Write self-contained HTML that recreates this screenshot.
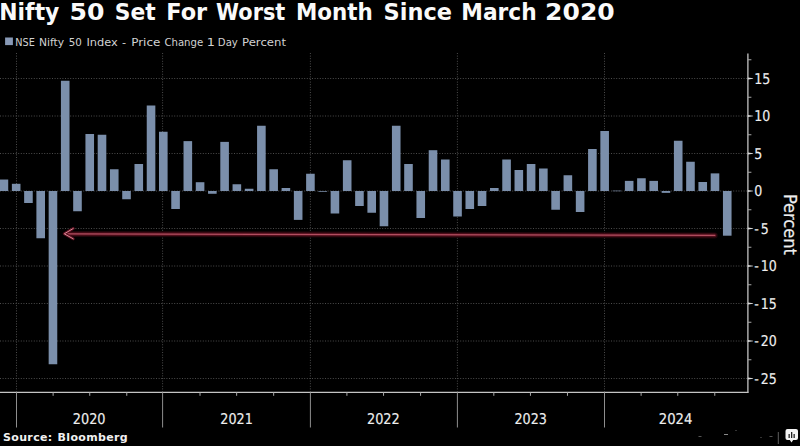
<!DOCTYPE html>
<html><head><meta charset="utf-8"><style>
html,body{margin:0;padding:0;background:#000;}
body{width:800px;height:446px;overflow:hidden;position:relative;}
svg{position:absolute;left:0;top:0;display:block;}
</style></head><body>
<svg width="800" height="446" viewBox="0 0 800 446">
<rect width="800" height="446" fill="#000"/>
<g fill="#fafafa" font-family="'DejaVu Sans', sans-serif" font-weight="bold" font-size="23" transform="translate(0,19.5)">
<text x="-0.70" textLength="60.04" lengthAdjust="spacingAndGlyphs">Nifty</text>
<text x="69.51" textLength="35.00" lengthAdjust="spacingAndGlyphs">50</text>
<text x="114.75" textLength="40.91" lengthAdjust="spacingAndGlyphs">Set</text>
<text x="166.25" textLength="40.89" lengthAdjust="spacingAndGlyphs">For</text>
<text x="216.09" textLength="69.26" lengthAdjust="spacingAndGlyphs">Worst</text>
<text x="296.04" textLength="76.80" lengthAdjust="spacingAndGlyphs">Month</text>
<text x="383.62" textLength="68.41" lengthAdjust="spacingAndGlyphs">Since</text>
<text x="461.31" textLength="75.36" lengthAdjust="spacingAndGlyphs">March</text>
<text x="545.13" textLength="69.58" lengthAdjust="spacingAndGlyphs">2020</text>
</g>
<rect x="5.1" y="37.5" width="7.8" height="7.6" fill="#8899b6"/>
<g fill="#d2d2d2" font-family="'DejaVu Sans', sans-serif" font-size="11" transform="translate(0,45.9)">
<text x="15.37" textLength="19.53" lengthAdjust="spacingAndGlyphs">NSE</text>
<text x="39.02" textLength="25.18" lengthAdjust="spacingAndGlyphs">Nifty</text>
<text x="68.82" textLength="13.08" lengthAdjust="spacingAndGlyphs">50</text>
<text x="86.47" textLength="31.34" lengthAdjust="spacingAndGlyphs">Index</text>
<text x="121.90" textLength="4.08" lengthAdjust="spacingAndGlyphs">-</text>
<text x="131.16" textLength="29.15" lengthAdjust="spacingAndGlyphs">Price</text>
<text x="164.40" textLength="38.82" lengthAdjust="spacingAndGlyphs">Change</text>
<text x="206.73" textLength="8.19" lengthAdjust="spacingAndGlyphs">1</text>
<text x="217.83" textLength="20.03" lengthAdjust="spacingAndGlyphs">Day</text>
<text x="242.04" textLength="43.98" lengthAdjust="spacingAndGlyphs">Percent</text>
</g>
<g stroke="#4c4c4c" stroke-width="1" stroke-dasharray="1 1.6">
<line x1="0" y1="78.50" x2="747.2" y2="78.50"/>
<line x1="0" y1="116.00" x2="747.2" y2="116.00"/>
<line x1="0" y1="153.50" x2="747.2" y2="153.50"/>
<line x1="0" y1="191.00" x2="747.2" y2="191.00"/>
<line x1="0" y1="228.50" x2="747.2" y2="228.50"/>
<line x1="0" y1="266.00" x2="747.2" y2="266.00"/>
<line x1="0" y1="303.50" x2="747.2" y2="303.50"/>
<line x1="0" y1="341.00" x2="747.2" y2="341.00"/>
<line x1="0" y1="378.50" x2="747.2" y2="378.50"/>
<line x1="16.50" y1="53" x2="16.50" y2="391.7"/>
<line x1="162.60" y1="53" x2="162.60" y2="391.7"/>
<line x1="310.40" y1="53" x2="310.40" y2="391.7"/>
<line x1="457.40" y1="53" x2="457.40" y2="391.7"/>
<line x1="604.50" y1="53" x2="604.50" y2="391.7"/>
</g>
<g fill="#7b8fab">
<rect x="0.00" y="179.53" width="8.22" height="11.47"/>
<rect x="11.88" y="183.80" width="8.60" height="7.20"/>
<rect x="24.14" y="191.00" width="8.60" height="12.00"/>
<rect x="36.40" y="191.00" width="8.60" height="47.25"/>
<rect x="48.66" y="191.00" width="8.60" height="173.25"/>
<rect x="60.92" y="80.75" width="8.60" height="110.25"/>
<rect x="73.18" y="191.00" width="8.60" height="20.25"/>
<rect x="85.44" y="134.00" width="8.60" height="57.00"/>
<rect x="97.70" y="134.75" width="8.60" height="56.25"/>
<rect x="109.96" y="169.25" width="8.60" height="21.75"/>
<rect x="122.22" y="191.00" width="8.60" height="8.25"/>
<rect x="134.48" y="164.00" width="8.60" height="27.00"/>
<rect x="146.74" y="105.50" width="8.60" height="85.50"/>
<rect x="159.00" y="131.75" width="8.60" height="59.25"/>
<rect x="171.26" y="191.00" width="8.60" height="18.00"/>
<rect x="183.52" y="141.12" width="8.60" height="49.88"/>
<rect x="195.78" y="182.22" width="8.60" height="8.77"/>
<rect x="208.04" y="191.00" width="8.60" height="2.77"/>
<rect x="220.30" y="141.88" width="8.60" height="49.12"/>
<rect x="232.56" y="184.25" width="8.60" height="6.75"/>
<rect x="244.82" y="188.75" width="8.60" height="2.25"/>
<rect x="257.08" y="125.75" width="8.60" height="65.25"/>
<rect x="269.34" y="169.25" width="8.60" height="21.75"/>
<rect x="281.60" y="188.00" width="8.60" height="3.00"/>
<rect x="293.86" y="191.00" width="8.60" height="28.88"/>
<rect x="306.12" y="173.75" width="8.60" height="17.25"/>
<rect x="318.38" y="191.00" width="8.60" height="0.75"/>
<rect x="330.63" y="191.00" width="8.60" height="22.50"/>
<rect x="342.89" y="160.25" width="8.60" height="30.75"/>
<rect x="355.15" y="191.00" width="8.60" height="15.00"/>
<rect x="367.41" y="191.00" width="8.60" height="21.75"/>
<rect x="379.67" y="191.00" width="8.60" height="35.25"/>
<rect x="391.93" y="125.75" width="8.60" height="65.25"/>
<rect x="404.19" y="164.00" width="8.60" height="27.00"/>
<rect x="416.45" y="191.00" width="8.60" height="27.00"/>
<rect x="428.71" y="150.20" width="8.60" height="40.80"/>
<rect x="440.97" y="159.50" width="8.60" height="31.50"/>
<rect x="453.23" y="191.00" width="8.60" height="25.50"/>
<rect x="465.49" y="191.00" width="8.60" height="18.00"/>
<rect x="477.75" y="191.00" width="8.60" height="15.00"/>
<rect x="490.01" y="188.00" width="8.60" height="3.00"/>
<rect x="502.27" y="159.50" width="8.60" height="31.50"/>
<rect x="514.53" y="170.00" width="8.60" height="21.00"/>
<rect x="526.79" y="164.00" width="8.60" height="27.00"/>
<rect x="539.05" y="168.50" width="8.60" height="22.50"/>
<rect x="551.31" y="191.00" width="8.60" height="18.75"/>
<rect x="563.57" y="175.25" width="8.60" height="15.75"/>
<rect x="575.83" y="191.00" width="8.60" height="21.00"/>
<rect x="588.09" y="149.00" width="8.60" height="42.00"/>
<rect x="600.35" y="131.00" width="8.60" height="60.00"/>
<rect x="612.61" y="190.62" width="8.60" height="0.60"/>
<rect x="624.87" y="180.88" width="8.60" height="10.12"/>
<rect x="637.13" y="178.25" width="8.60" height="12.75"/>
<rect x="649.39" y="180.88" width="8.60" height="10.12"/>
<rect x="661.65" y="191.00" width="8.60" height="1.88"/>
<rect x="673.91" y="140.75" width="8.60" height="50.25"/>
<rect x="686.17" y="161.75" width="8.60" height="29.25"/>
<rect x="698.43" y="182.00" width="8.60" height="9.00"/>
<rect x="710.69" y="173.38" width="8.60" height="17.62"/>
<rect x="722.95" y="191.00" width="8.60" height="44.70"/>
</g>
<g fill="none" stroke-linecap="round" stroke-linejoin="round">
<line x1="70" y1="233.95" x2="714.8" y2="235.4" stroke-width="6" stroke="#1e050a"/>
<line x1="68" y1="233.95" x2="714.8" y2="235.4" stroke-width="3.6" stroke="#4e0e1a"/>
<line x1="67" y1="233.95" x2="714.8" y2="235.4" stroke-width="1.3" stroke="#b24e60"/>
<polyline points="73.2,228.5 64.3,233.8 73.2,238.8" stroke-width="3" stroke="#5a1020"/>
<polyline points="73.2,228.5 64.3,233.8 73.2,238.8" stroke-width="1.0" stroke="#d88a96"/>
</g>
<g stroke="#c4c4c4" stroke-width="1.3">
<line x1="747.9" y1="53.5" x2="747.9" y2="392.8"/>
<line x1="0" y1="392.3" x2="748.5" y2="392.3"/>
</g>
<g stroke="#a8a8a8" stroke-width="1">
<line x1="747.9" y1="359.75" x2="751.40" y2="359.75"/>
<line x1="747.9" y1="322.25" x2="751.40" y2="322.25"/>
<line x1="747.9" y1="284.75" x2="751.40" y2="284.75"/>
<line x1="747.9" y1="247.25" x2="751.40" y2="247.25"/>
<line x1="747.9" y1="209.75" x2="751.40" y2="209.75"/>
<line x1="747.9" y1="172.25" x2="751.40" y2="172.25"/>
<line x1="747.9" y1="134.75" x2="751.40" y2="134.75"/>
<line x1="747.9" y1="97.25" x2="751.40" y2="97.25"/>
<line x1="747.9" y1="59.75" x2="751.40" y2="59.75"/>
<line x1="53.12" y1="392.3" x2="53.12" y2="395.8"/>
<line x1="89.75" y1="392.3" x2="89.75" y2="395.8"/>
<line x1="126.78" y1="392.3" x2="126.78" y2="395.8"/>
<line x1="200.02" y1="392.3" x2="200.02" y2="395.8"/>
<line x1="236.65" y1="392.3" x2="236.65" y2="395.8"/>
<line x1="273.67" y1="392.3" x2="273.67" y2="395.8"/>
<line x1="346.92" y1="392.3" x2="346.92" y2="395.8"/>
<line x1="383.55" y1="392.3" x2="383.55" y2="395.8"/>
<line x1="420.57" y1="392.3" x2="420.57" y2="395.8"/>
<line x1="493.82" y1="392.3" x2="493.82" y2="395.8"/>
<line x1="530.45" y1="392.3" x2="530.45" y2="395.8"/>
<line x1="567.47" y1="392.3" x2="567.47" y2="395.8"/>
<line x1="641.12" y1="392.3" x2="641.12" y2="395.8"/>
<line x1="677.75" y1="392.3" x2="677.75" y2="395.8"/>
<line x1="714.78" y1="392.3" x2="714.78" y2="395.8"/>
</g>
<g stroke="#8e8e8e" stroke-width="1">
<line x1="16.50" y1="392.3" x2="16.50" y2="427.5"/>
<line x1="162.60" y1="392.3" x2="162.60" y2="427.5"/>
<line x1="310.40" y1="392.3" x2="310.40" y2="427.5"/>
<line x1="457.40" y1="392.3" x2="457.40" y2="427.5"/>
<line x1="604.50" y1="392.3" x2="604.50" y2="427.5"/>
</g>
<g fill="#d8d8d8">
<path d="M747.9 377.40 L753.10 378.20 L753.10 378.80 L747.9 379.60Z"/>
<path d="M747.9 339.90 L753.10 340.70 L753.10 341.30 L747.9 342.10Z"/>
<path d="M747.9 302.40 L753.10 303.20 L753.10 303.80 L747.9 304.60Z"/>
<path d="M747.9 264.90 L753.10 265.70 L753.10 266.30 L747.9 267.10Z"/>
<path d="M747.9 227.40 L753.10 228.20 L753.10 228.80 L747.9 229.60Z"/>
<path d="M747.9 189.90 L753.10 190.70 L753.10 191.30 L747.9 192.10Z"/>
<path d="M747.9 152.40 L753.10 153.20 L753.10 153.80 L747.9 154.60Z"/>
<path d="M747.9 114.90 L753.10 115.70 L753.10 116.30 L747.9 117.10Z"/>
<path d="M747.9 77.40 L753.10 78.20 L753.10 78.80 L747.9 79.60Z"/>
</g>
<g fill="#eeeeee" font-family="'DejaVu Sans Condensed', 'DejaVu Sans', sans-serif" font-size="14.9" stroke="#eeeeee" stroke-width="0.15" text-rendering="geometricPrecision">
<g transform="translate(755,0) scale(0.94,1)">
<text x="-0.9" y="83.80">15</text>
<text x="-0.9" y="121.30">10</text>
<text x="-0.9" y="158.80">5</text>
<text x="-0.9" y="196.30">0</text>
<text x="-0.9" y="233.80">-<tspan dx="2.2">5</tspan></text>
<text x="-0.9" y="271.30">-<tspan dx="2.2">10</tspan></text>
<text x="-0.9" y="308.80">-<tspan dx="2.2">15</tspan></text>
<text x="-0.9" y="346.30">-<tspan dx="2.2">20</tspan></text>
<text x="-0.9" y="383.80">-<tspan dx="2.2">25</tspan></text>
</g>
<text x="72.80" y="423.6" textLength="32.76" lengthAdjust="spacingAndGlyphs">2020</text>
<text x="220.30" y="423.6" textLength="32.49" lengthAdjust="spacingAndGlyphs">2021</text>
<text x="366.94" y="423.6" textLength="32.86" lengthAdjust="spacingAndGlyphs">2022</text>
<text x="514.46" y="423.6" textLength="32.44" lengthAdjust="spacingAndGlyphs">2023</text>
<text x="658.77" y="423.6" textLength="33.65" lengthAdjust="spacingAndGlyphs">2024</text>
</g>
<text transform="translate(783.6,194.0) rotate(90)" fill="#eeeeee" font-family="'DejaVu Sans Condensed', 'DejaVu Sans', sans-serif" font-size="18" stroke="#eeeeee" stroke-width="0.2">Percent</text>
<text x="3" y="441" fill="#f0f0f0" font-family="'DejaVu Sans', sans-serif" font-weight="bold" font-size="11" letter-spacing="0.35" word-spacing="0.8">Source: Bloomberg</text>
<g>
<rect x="785.5" y="429" width="12.5" height="11" rx="2" fill="#f4f4f4"/>
<path d="M789.5 439.5 L791.5 442.5 L793.5 439.5 Z" fill="#f4f4f4"/>
<rect x="788.5" y="434" width="1.3" height="4" fill="#222"/>
<rect x="791" y="432" width="1.3" height="6" fill="#222"/>
<rect x="793.5" y="434" width="1.3" height="4" fill="#222"/>
<line x1="778.3" y1="432" x2="778.3" y2="444" stroke="#777" stroke-width="0.8"/>
<g fill="#555"><rect x="724" y="434" width="4" height="1" fill="#888"/><rect x="698.5" y="436" width="3" height="1"/><rect x="769.5" y="436" width="3" height="1"/><rect x="735" y="430" width="2" height="1" fill="#333"/><rect x="760" y="437" width="2" height="1" fill="#333"/></g>
</g>
</svg>
</body></html>
